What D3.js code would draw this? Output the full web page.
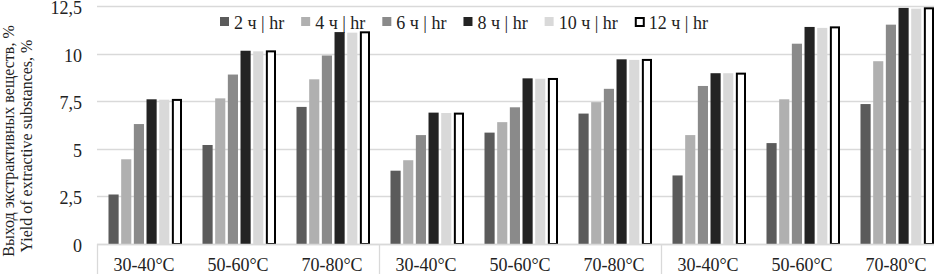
<!DOCTYPE html>
<html>
<head>
<meta charset="utf-8">
<script src="https://cdn.jsdelivr.net/npm/d3@7"></script>
</head>
<body style="margin:0;background:#fff">
<svg id="vis" width="934" height="274" style="display:block"></svg>
<script>
const groups = ["A", "B", "C"];
const temps = ["30-40°C", "50-60°C", "70-80°C"];
const seriesNames = ["2 ч | hr", "4 ч | hr", "6 ч | hr", "8 ч | hr", "10 ч | hr", "12 ч | hr"];
// values per category (group x temp), one array per series
const s2h  = [2.6, 5.2, 7.2, 3.85, 5.85, 6.85, 3.6, 5.3, 7.35];
const s4h  = [4.45, 7.65, 8.65, 4.4, 6.4, 7.45, 5.72, 7.6, 9.6];
const s6h  = [6.3, 8.9, 9.9, 5.72, 7.18, 8.15, 8.3, 10.52, 11.52];
const s8h  = [7.6, 10.15, 11.13, 6.9, 8.7, 9.7, 8.97, 11.4, 12.4];
const s10h = [7.58, 10.12, 11.1, 6.88, 8.68, 9.67, 8.97, 11.35, 12.36];
const s12h = [7.62, 10.17, 11.17, 6.9, 8.72, 9.72, 9.0, 11.43, 12.43];
const yTicks = [0, 2.5, 5, 7.5, 10, 12.5];
const yTickLabels = ["0", "2,5", "5", "7,5", "10", "12,5"];
const yTitle1 = "Выход экстрактивных веществ, %";
const yTitle2 = "Yield of extractive substances, %";

const series = [s2h, s4h, s6h, s8h, s10h, s12h];
const fills = ["#5b5b5b", "#b0b0b0", "#8a8a8a", "#232323", "#d9d9d9", "#ffffff"];
const FONT = "'Liberation Serif', 'Times New Roman', serif";

const categories = [];
groups.forEach(g => temps.forEach(t => categories.push(g + "|" + t)));

const svg = d3.select("#vis");
const x0 = 97, x1 = 943, yBottom = 244, yTop = 6;

const x = d3.scaleBand().domain(categories).range([x0, x1]).paddingInner(0).paddingOuter(0);
const xs = d3.scaleBand().domain(d3.range(6)).range([11.5, 85]).paddingInner(0.2).paddingOuter(0);
const y = d3.scaleLinear().domain([0, 12.5]).range([yBottom, yTop]);

function styleText(sel, size) {
  return sel.attr("font-family", FONT)
    .style("font-size", size + "px")
    .attr("fill", "#222");
}

// gridlines
svg.append("g").selectAll("line").data(yTicks).join("line")
  .attr("x1", x0).attr("x2", 934)
  .attr("y1", d => Math.round(y(d)) + 0.5).attr("y2", d => Math.round(y(d)) + 0.5)
  .attr("stroke", "#d9d9d9").attr("stroke-width", 1.3);

// y tick labels
styleText(svg.append("g").selectAll("text").data(yTicks).join("text")
  .attr("x", 82).attr("y", d => y(d) + 8)
  .attr("text-anchor", "end")
  .text((d, i) => yTickLabels[i]), 18);

// bars
const bars = svg.append("g");
series.forEach((vals, si) => {
  bars.selectAll(null).data(vals).join("rect")
    .attr("x", (d, i) => x(categories[i]) + xs(si) + (si === 5 ? 1 : 0))
    .attr("width", xs.bandwidth() - (si === 5 ? 2 : 0))
    .attr("y", d => y(d) + (si === 5 ? 1 : 0))
    .attr("height", d => yBottom - y(d) - (si === 5 ? 1 : 0))
    .attr("fill", fills[si])
    .attr("stroke", si === 5 ? "#000" : "none")
    .attr("stroke-width", si === 5 ? 2 : 0);
});

// x axis line
svg.append("line").attr("x1", x0).attr("x2", 934).attr("y1", yBottom + 0.5).attr("y2", yBottom + 0.5)
  .attr("stroke", "#d9d9d9").attr("stroke-width", 1.3);

// group separators
const sepX = groups.map((g, i) => x(categories[i * 3]));
svg.append("g").selectAll("line").data(sepX).join("line")
  .attr("x1", d => Math.round(d) + 0.5).attr("x2", d => Math.round(d) + 0.5)
  .attr("y1", yBottom).attr("y2", 274)
  .attr("stroke", "#d9d9d9").attr("stroke-width", 1.3);

// category labels
styleText(svg.append("g").selectAll("text").data(categories).join("text")
  .attr("x", d => x(d) + x.bandwidth() / 2)
  .attr("y", 271)
  .attr("text-anchor", "middle")
  .text(d => d.split("|")[1]), 18);

// y title
styleText(svg.append("text").attr("transform", "translate(14,141) rotate(-90)")
  .attr("text-anchor", "middle").text(yTitle1), 16);
styleText(svg.append("text").attr("transform", "translate(32,146) rotate(-90)")
  .attr("text-anchor", "middle").text(yTitle2), 16);

// legend
const legend = svg.append("g");
let lx = 220;
seriesNames.forEach((name, si) => {
  const g = legend.append("g").attr("transform", `translate(${lx},0)`);
  g.append("rect").attr("x", si === 5 ? 1 : 0).attr("y", si === 5 ? 18 : 17)
    .attr("width", si === 5 ? 8 : 9).attr("height", si === 5 ? 8 : 9)
    .attr("fill", fills[si]).attr("stroke", si === 5 ? "#000" : "none").attr("stroke-width", 2);
  const t = styleText(g.append("text").attr("x", 14).attr("y", 29).text(name), 18);
  lx += 14 + t.node().getComputedTextLength() + 17;
});
</script>
</body>
</html>
